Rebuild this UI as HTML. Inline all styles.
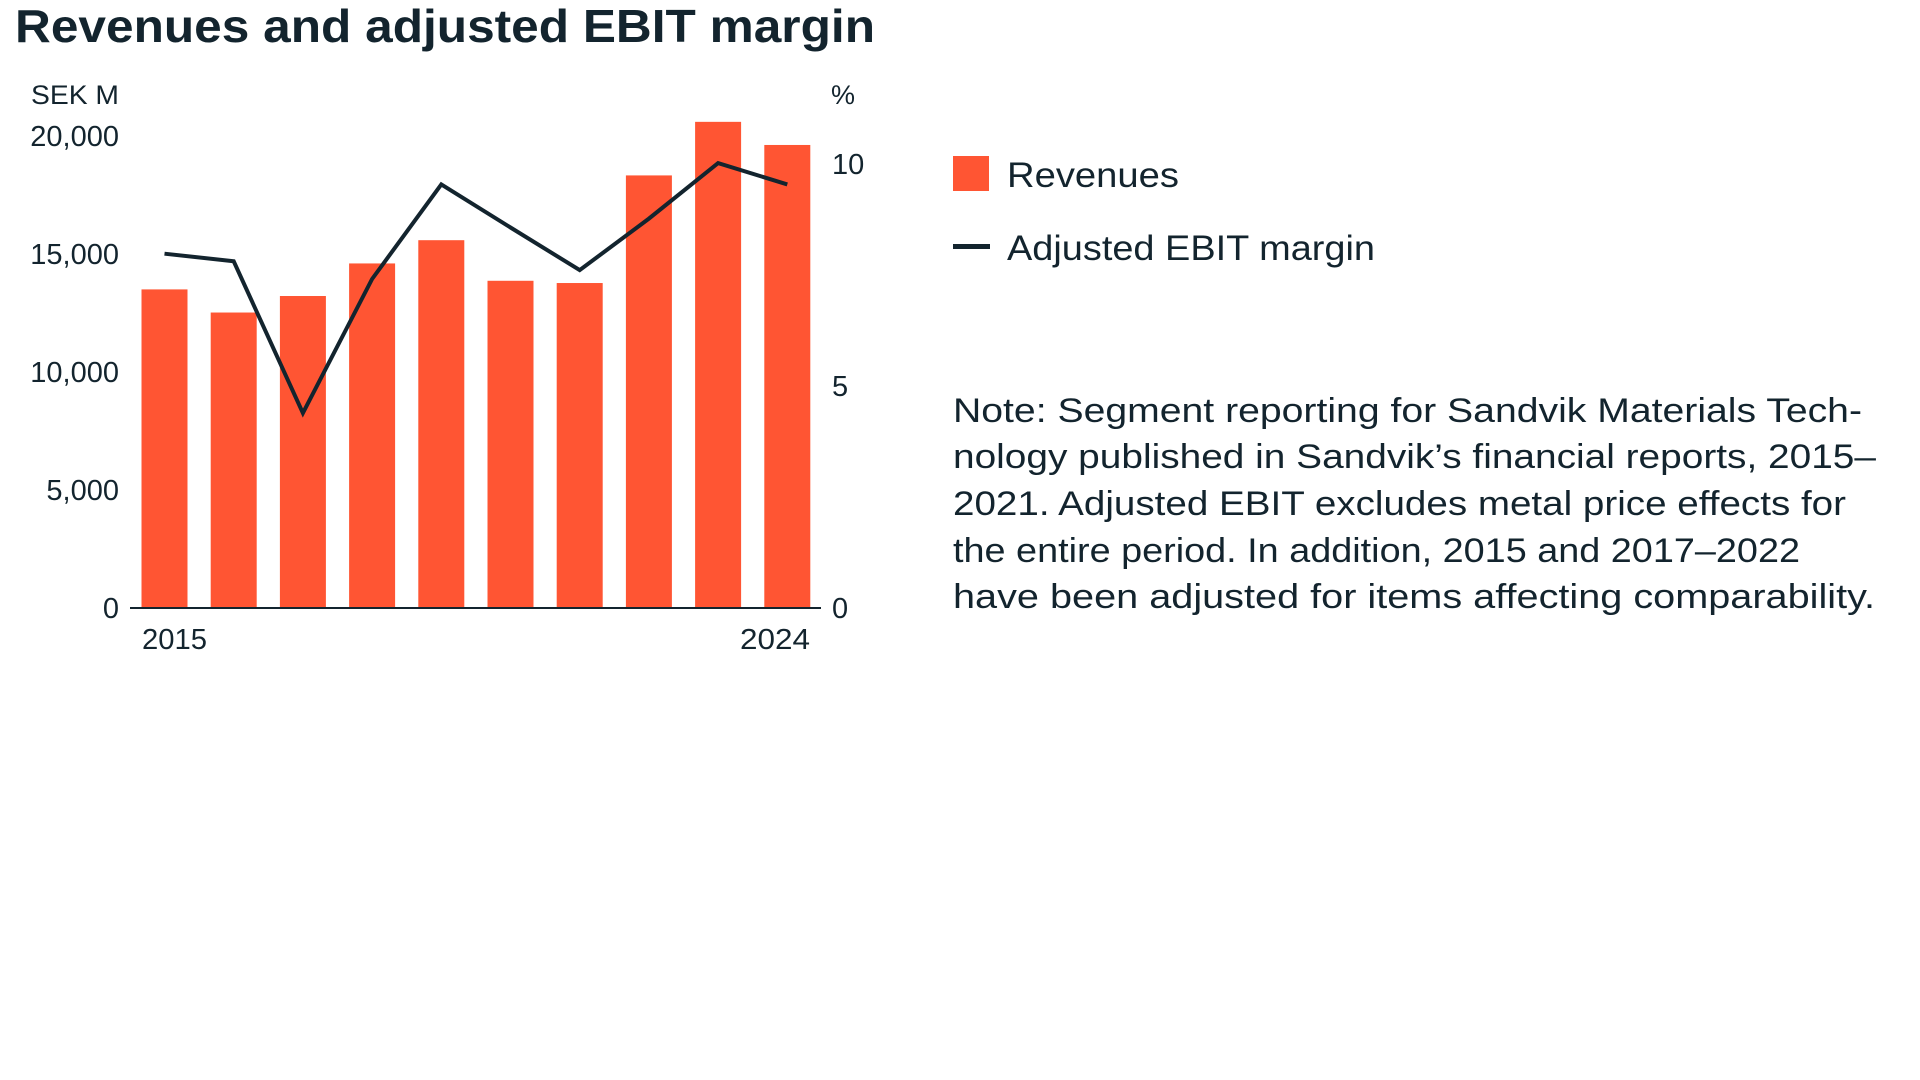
<!DOCTYPE html>
<html><head><meta charset="utf-8"><style>
html,body{margin:0;padding:0;background:#fff;width:1920px;height:1080px;overflow:hidden}
svg{display:block;font-family:"Liberation Sans",sans-serif}
</style></head><body>
<svg id="chart" width="1920" height="1080" viewBox="0 0 1920 1080">
<text x="15" y="42" font-size="46" font-weight="bold" fill="#13242E" textLength="860" lengthAdjust="spacingAndGlyphs">Revenues and adjusted EBIT margin</text>
<text x="31" y="104" font-size="27" fill="#13242E" textLength="88" lengthAdjust="spacingAndGlyphs">SEK M</text>
<text x="831" y="104" font-size="27" fill="#13242E">%</text>
<g id="bars"></g><g id="leftTicks"></g><g id="rightTicks"></g>
<line x1="130" y1="608" x2="821" y2="608" stroke="#13242E" stroke-width="2"/>
<polyline id="line" fill="none" stroke="#13242E" stroke-width="4" stroke-linejoin="miter"/>
<text x="142" y="649" font-size="29" fill="#13242E" textLength="65" lengthAdjust="spacingAndGlyphs">2015</text>
<text x="810" y="649" font-size="29" fill="#13242E" text-anchor="end" textLength="70" lengthAdjust="spacingAndGlyphs">2024</text>
<g>
<rect x="953" y="156" width="36" height="35" fill="#FF5533"/>
<text x="1007" y="187" font-size="35" fill="#13242E" textLength="172" lengthAdjust="spacingAndGlyphs">Revenues</text>
<rect x="953" y="244" width="37" height="5" fill="#13242E"/>
<text x="1007" y="260" font-size="35" fill="#13242E" textLength="368" lengthAdjust="spacingAndGlyphs">Adjusted EBIT margin</text>
</g>
<g font-size="34" fill="#13242E">
<text x="953" y="422" textLength="909" lengthAdjust="spacingAndGlyphs">Note: Segment reporting for Sandvik Materials Tech-</text>
<text x="953" y="468" textLength="923" lengthAdjust="spacingAndGlyphs">nology published in Sandvik’s financial reports, 2015–</text>
<text x="953" y="515" textLength="893" lengthAdjust="spacingAndGlyphs">2021. Adjusted EBIT excludes metal price effects for</text>
<text x="953" y="562" textLength="847" lengthAdjust="spacingAndGlyphs">the entire period. In addition, 2015 and 2017–2022</text>
<text x="953" y="608" textLength="922" lengthAdjust="spacingAndGlyphs">have been adjusted for items affecting comparability.</text>
</g>
</svg>
<script>
const years = [2015,2016,2017,2018,2019,2020,2021,2022,2023,2024];
const revenues = [13500,12520,13220,14600,15585,13865,13770,18330,20600,19620];
const ebitMargin = [7.98,7.81,4.39,7.41,9.54,8.57,7.61,8.77,10.02,9.54];
const leftTickValues = [0,5000,10000,15000,20000];
const leftTickLabels = ["0","5,000","10,000","15,000","20,000"];
const rightTickValues = [0,5,10];
const rightTickLabels = ["0","5","10"];

const NS="http://www.w3.org/2000/svg";
const base=608, x0=164.5, step=69.2, barW=46;
function xPos(i){return x0+i*step;}
function yLeft(v){return base-v*472/20000;}
function yRight(v){return base-v*44.4;}

const bars=document.getElementById('bars');
revenues.forEach((v,i)=>{
  const r=document.createElementNS(NS,'rect');
  
  
  r.setAttribute('x',xPos(i)-barW/2);
  r.setAttribute('y',yLeft(v));
  r.setAttribute('width',barW);
  r.setAttribute('height',base-yLeft(v));
  r.setAttribute('fill','#FF5533');
  bars.appendChild(r);
});
const lt=document.getElementById('leftTicks');
leftTickValues.forEach((v,i)=>{
  const t=document.createElementNS(NS,'text');
  
  
  t.setAttribute('x',119);t.setAttribute('y',yLeft(v)+10);
  t.setAttribute('text-anchor','end');t.setAttribute('font-size','29');t.setAttribute('fill','#13242E');
  t.textContent=leftTickLabels[i];
  lt.appendChild(t);
});
const rt=document.getElementById('rightTicks');
rightTickValues.forEach((v,i)=>{
  const t=document.createElementNS(NS,'text');
  
  
  t.setAttribute('x',832);t.setAttribute('y',yRight(v)+10);
  t.setAttribute('font-size','29');t.setAttribute('fill','#13242E');
  t.textContent=rightTickLabels[i];
  rt.appendChild(t);
});
document.getElementById('line').setAttribute('points',ebitMargin.map((v,i)=>xPos(i)+','+yRight(v)).join(' '));
</script>
</body></html>
